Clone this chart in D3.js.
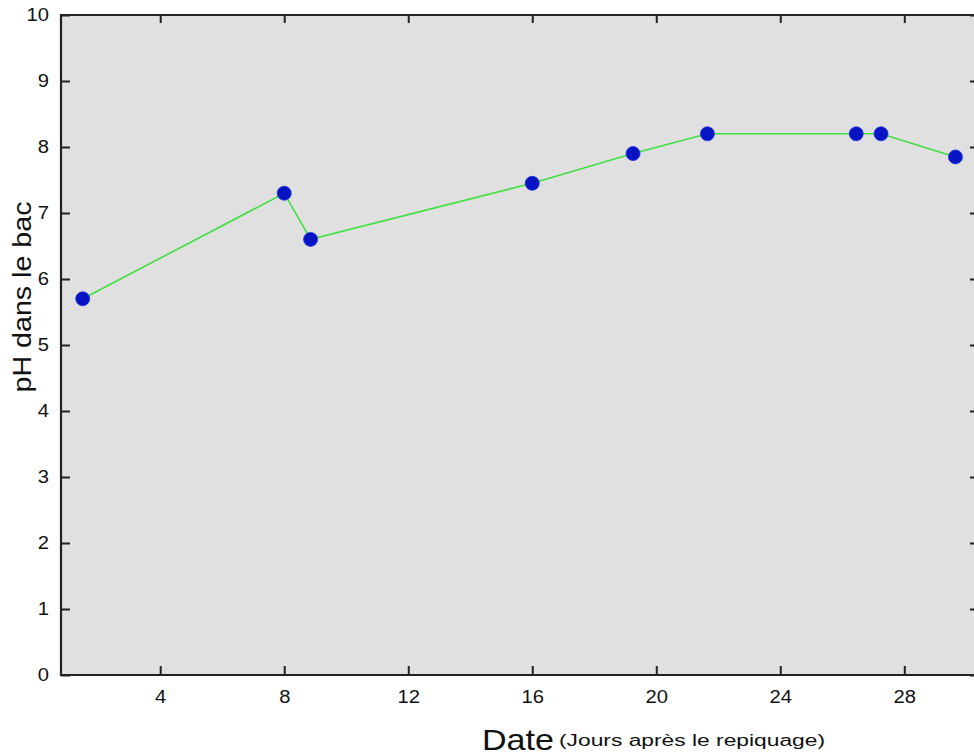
<!DOCTYPE html>
<html>
<head>
<meta charset="utf-8">
<script src="https://cdn.jsdelivr.net/npm/d3@7/dist/d3.min.js"></script>
<style>
  html, body { margin: 0; padding: 0; background: #ffffff; }
  svg { display: block; }
  text { font-family: "Liberation Sans", Arial, sans-serif; fill: #111; }
</style>
</head>
<body>
<svg id="chart" width="974" height="756"></svg>
<script>
// pH measured in the tank, by day after transplanting
const days = [1.5, 8, 8.85, 16, 19.25, 21.65, 26.45, 27.25, 29.65];
const phValues = [5.7, 7.3, 6.6, 7.45, 7.9, 8.2, 8.2, 8.2, 7.85];
const xTicks = [4, 8, 12, 16, 20, 24, 28];
const yTicks = [0, 1, 2, 3, 4, 5, 6, 7, 8, 9, 10];

const svg = d3.select("#chart");
const plotLeft = 61, plotRight = 979, plotTop = 15, plotBottom = 675;

const x = d3.scaleLinear().domain([0.8, 30.41]).range([plotLeft, plotRight]);
const y = d3.scaleLinear().domain([0, 10]).range([plotBottom, plotTop]);

// plot background
svg.append("rect")
  .attr("x", plotLeft).attr("y", plotTop)
  .attr("width", plotRight - plotLeft).attr("height", plotBottom - plotTop)
  .attr("fill", "#e0e0e0");

const axisColor = "#222";

function styleAxis(g) {
  g.select(".domain").remove();
  g.selectAll(".tick line").attr("stroke", axisColor).attr("stroke-width", 2);
}

// bottom axis with inward ticks
const xAxis = svg.append("g")
  .attr("transform", `translate(0,${plotBottom})`)
  .call(d3.axisBottom(x).tickValues(xTicks).tickSize(-9).tickPadding(15).tickFormat(d3.format("d")));
styleAxis(xAxis);
xAxis.selectAll(".tick text").attr("font-size", 18).attr("fill", "#111")
  .attr("font-family", "Liberation Sans, Arial, sans-serif");

// top axis, ticks only
const xTop = svg.append("g")
  .attr("transform", `translate(0,${plotTop})`)
  .call(d3.axisTop(x).tickValues(xTicks).tickSize(-8).tickFormat(""));
styleAxis(xTop);

// left axis with inward ticks
const yAxis = svg.append("g")
  .attr("transform", `translate(${plotLeft},0)`)
  .call(d3.axisLeft(y).tickValues(yTicks).tickSize(-9).tickPadding(12).tickFormat(d3.format("d")));
styleAxis(yAxis);
yAxis.selectAll(".tick text").attr("font-size", 18).attr("fill", "#111")
  .attr("font-family", "Liberation Sans, Arial, sans-serif");

// right axis, ticks only
const yRight = svg.append("g")
  .attr("transform", `translate(${plotRight},0)`)
  .call(d3.axisRight(y).tickValues(yTicks).tickSize(-9).tickFormat(""));
styleAxis(yRight);

// slightly wide tick lettering
svg.selectAll(".tick text").each(function () {
  const len = this.getComputedTextLength();
  if (len > 0) {
    d3.select(this).attr("textLength", len * 1.12).attr("lengthAdjust", "spacingAndGlyphs");
  }
});

// frame lines
const frame = svg.append("g").attr("stroke", axisColor).attr("stroke-width", 2.2).attr("fill", "none");
frame.append("line").attr("x1", plotLeft).attr("x2", plotRight).attr("y1", plotTop).attr("y2", plotTop);
frame.append("line").attr("x1", plotLeft).attr("x2", plotRight).attr("y1", plotBottom).attr("y2", plotBottom);
frame.append("line").attr("x1", plotLeft).attr("x2", plotLeft).attr("y1", plotTop - 1).attr("y2", plotBottom + 1);
frame.append("line").attr("x1", plotRight).attr("x2", plotRight).attr("y1", plotTop - 1).attr("y2", plotBottom + 1);

// series line
const pts = days.map((d, i) => [d, phValues[i]]);
svg.append("path")
  .datum(pts)
  .attr("fill", "none")
  .attr("stroke", "#3fe03f")
  .attr("stroke-width", 1.6)
  .attr("d", d3.line().x(d => x(d[0])).y(d => y(d[1])));

// markers
svg.append("g").selectAll("circle")
  .data(pts)
  .join("circle")
  .attr("cx", d => x(d[0]))
  .attr("cy", d => y(d[1]))
  .attr("r", 7)
  .attr("fill", "#0614c4")
  .attr("stroke", "#2030e8")
  .attr("stroke-width", 0.8);

// axis titles
svg.append("text")
  .attr("transform", "translate(31,297) rotate(-90)")
  .attr("text-anchor", "middle")
  .attr("font-size", 25)
  .attr("textLength", 191)
  .attr("lengthAdjust", "spacingAndGlyphs")
  .text("pH dans le bac");

svg.append("text")
  .attr("x", 482).attr("y", 750)
  .attr("font-size", 30)
  .attr("textLength", 72)
  .attr("lengthAdjust", "spacingAndGlyphs")
  .text("Date");

svg.append("text")
  .attr("x", 559).attr("y", 746)
  .attr("font-size", 16)
  .attr("textLength", 266)
  .attr("lengthAdjust", "spacingAndGlyphs")
  .text("(Jours après le repiquage)");
</script>
</body>
</html>
